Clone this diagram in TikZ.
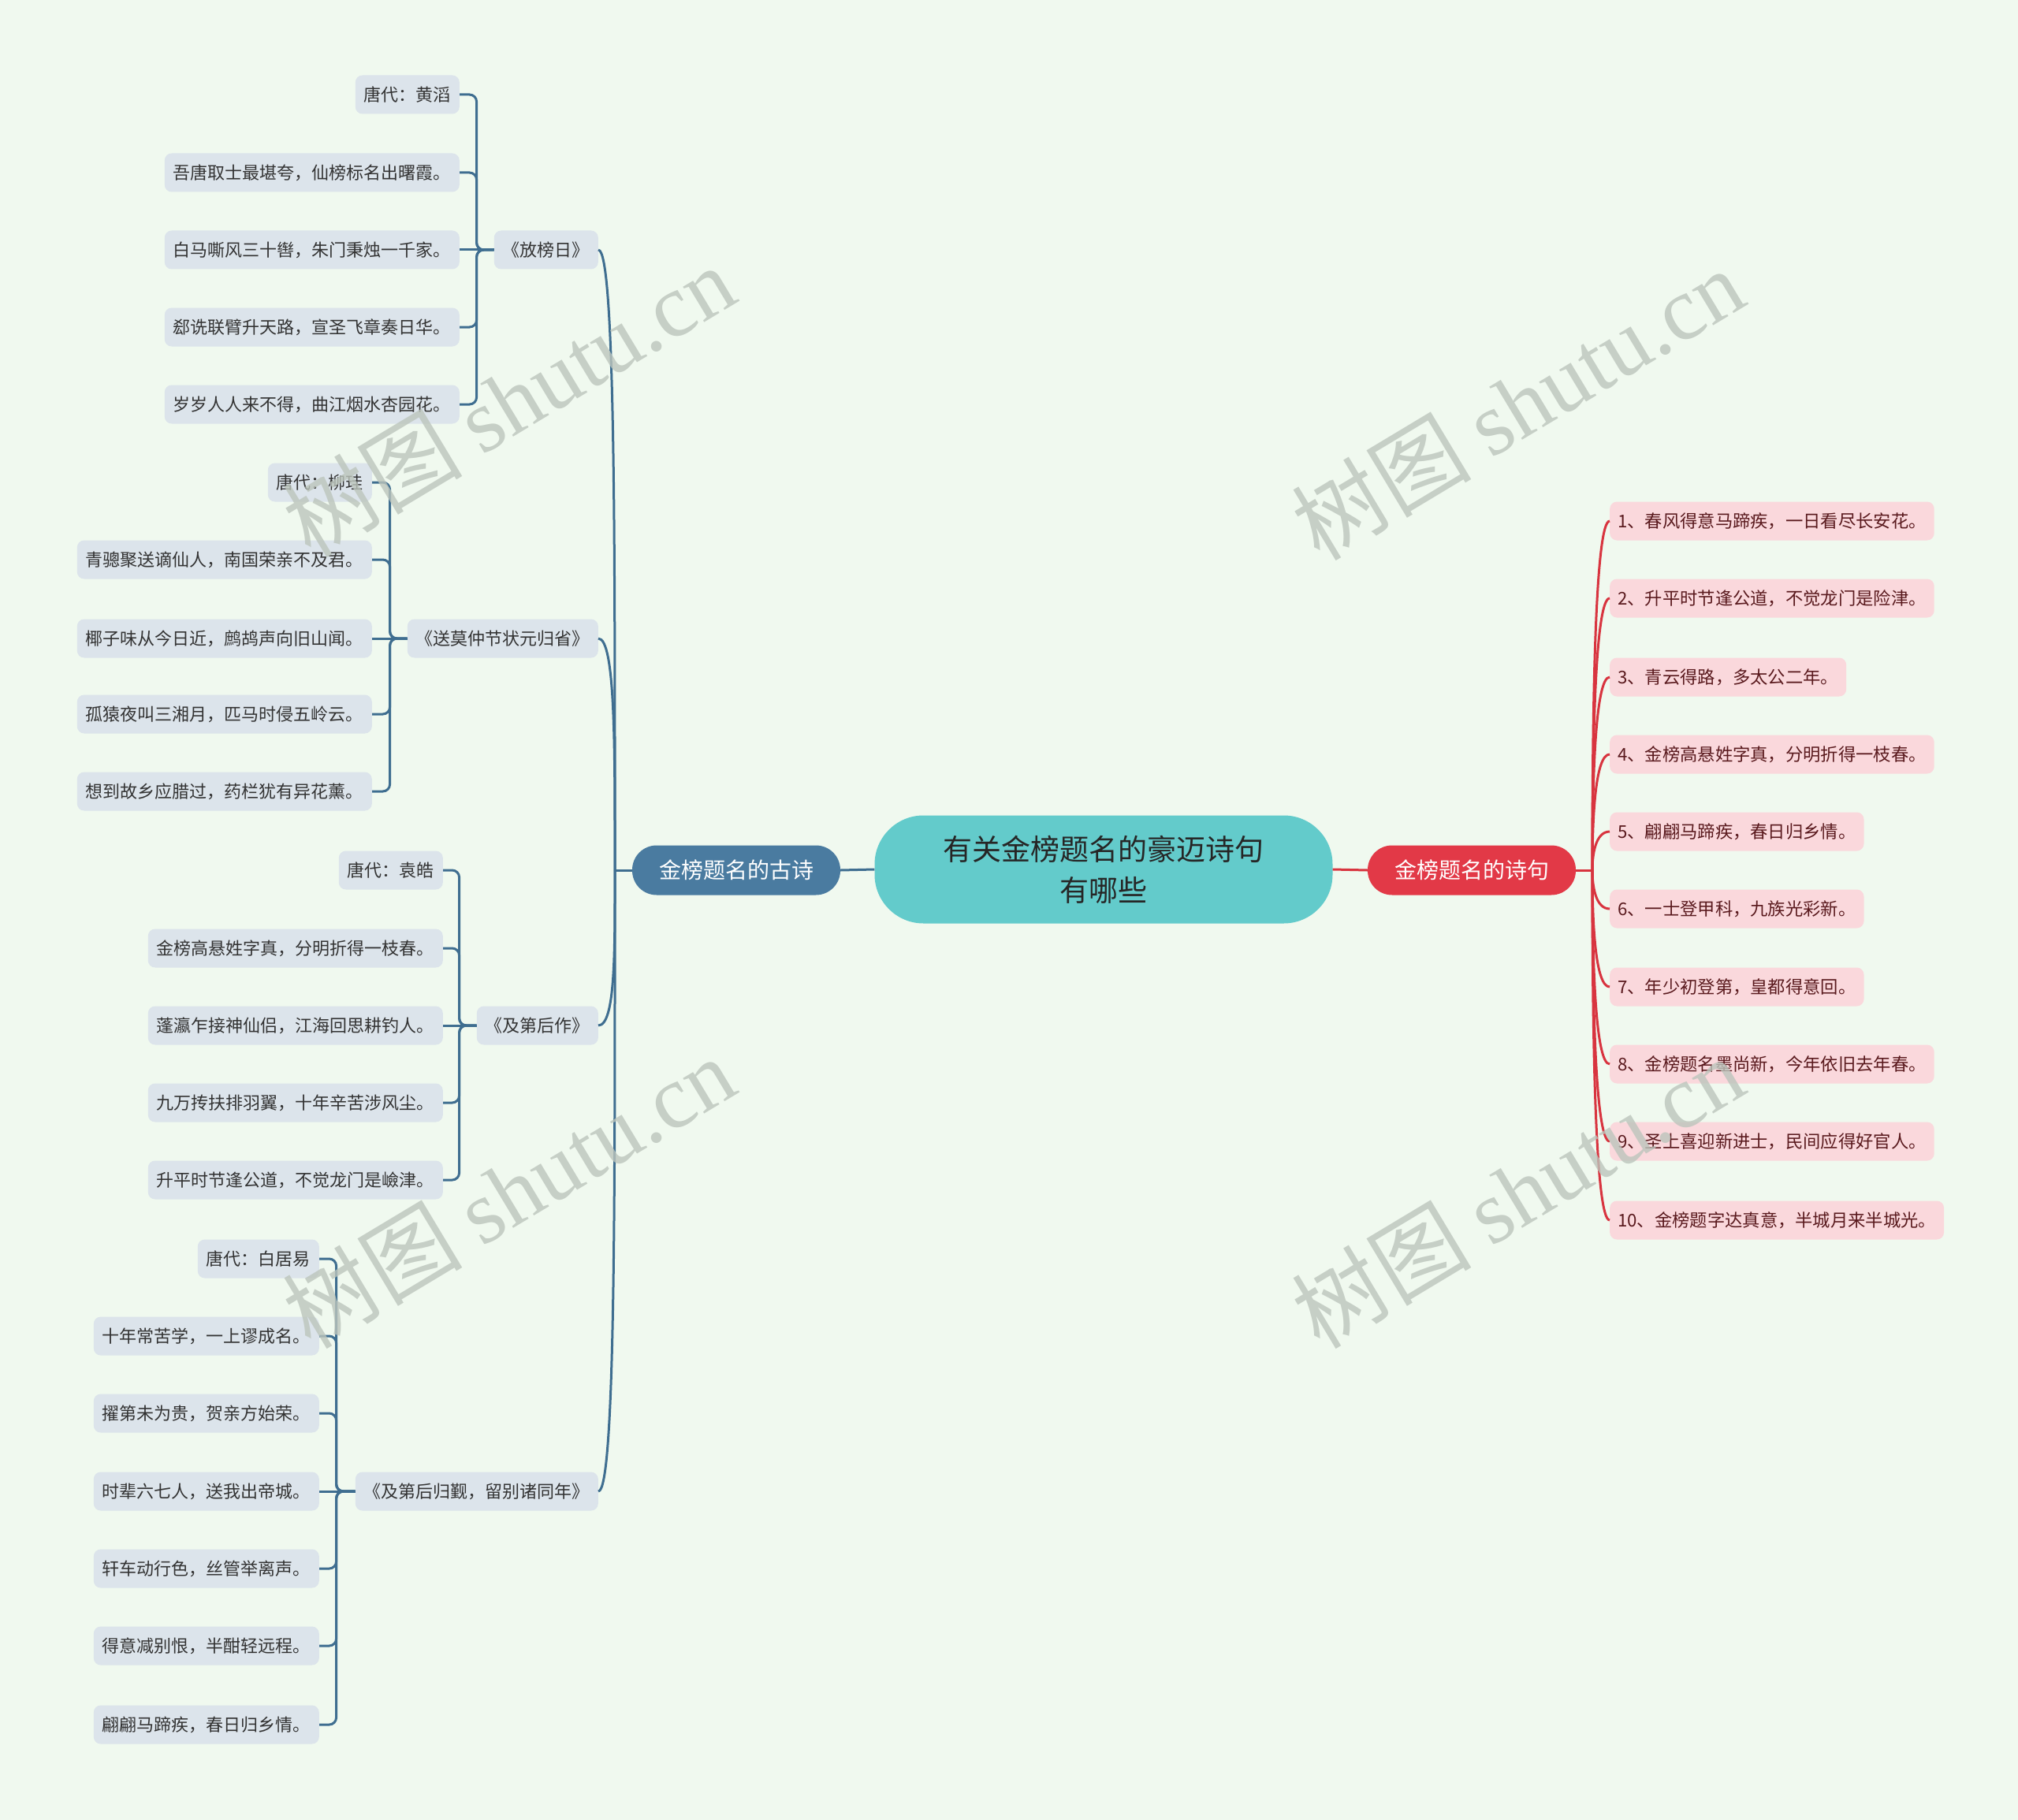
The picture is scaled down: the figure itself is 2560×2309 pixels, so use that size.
\documentclass[tikz,border=0pt]{standalone}
\usepackage{fontspec}
\setmainfont{Noto Sans CJK SC}
\newfontfamily\wmfont{Liberation Serif}
\usetikzlibrary{positioning}

\definecolor{bgcol}{HTML}{F0F9EF}
\definecolor{rootcol}{HTML}{63CBCB}
\definecolor{bluecol}{HTML}{4A7BA0}
\definecolor{bluelink}{HTML}{3F6E90}
\definecolor{blueleaf}{HTML}{DCE4EB}
\definecolor{redcol}{HTML}{E23947}
\definecolor{redlink}{HTML}{D8343F}
\definecolor{redleaf}{HTML}{FAD8DC}
\definecolor{redtext}{HTML}{5A1A1E}
\definecolor{wmcol}{HTML}{BCC5BC}

\begin{document}
\begin{tikzpicture}[
    x=1pt, y=-1pt, % one unit = one pixel of the layout, y down
    root/.style={fill=rootcol, text=black!85, rounded corners=62pt, minimum width=581pt,
        minimum height=137pt, align=center, font=\fontsize{37}{52}\selectfont}, % centre topic
    branchL/.style={fill=bluecol, text=white, rounded corners=31pt, minimum width=264pt,
        minimum height=63pt, font=\fontsize{28}{32}\selectfont}, % left main topic
    branchR/.style={branchL, fill=redcol}, % right main topic
    sub/.style={fill=blueleaf, text=black!80, rounded corners=9pt, inner xsep=11pt,
        minimum height=49pt, anchor=east, font=\fontsize{22}{26}\selectfont}, % poem titles
    leafL/.style={sub}, % lines of the poems
    leafR/.style={sub, fill=redleaf, text=redtext, anchor=west, inner xsep=10pt,
        font=\fontsize{22.3}{26}\selectfont}, % numbered lines
    linkL/.style={bluelink, line width=3pt}, % blue connectors
    linkR/.style={redlink, line width=3pt}, % red connectors
    wm/.style={text=wmcol, text opacity=0.8, font=\fontsize{114}{120}\selectfont} % watermark
]

    % Page
    \useasboundingbox[fill=bgcol] (0,0) rectangle (2560,2309);

    % Main topics
    \node[root] (root) at (1400,1103) {有关金榜题名的豪迈诗句\\有哪些};
    \node[branchL] (gushi) at (934,1104) {金榜题名的古诗};
    \node[branchR] (shiju) at (1867,1104) {金榜题名的诗句};

    \draw[linkL] (root.west) -- (gushi.east);
    \draw[linkR] (root.east) -- (shiju.west);

    % Poem titles
    \node[sub] (fb) at (759,317) {《放榜日》};
    \node[sub] (sm) at (759,810) {《送莫仲节状元归省》};
    \node[sub] (jd) at (759,1301) {《及第后作》};
    \node[sub] (gj) at (759,1892) {《及第后归觐，留别诸同年》};

    \coordinate (jL) at (780,1104);
    \draw[linkL] (gushi.west) -- (jL);
    \draw[linkL] (jL) .. controls +(0,-400) and +(22,0) .. (fb.east);
    \draw[linkL] (jL) .. controls +(0,-150) and +(22,0) .. (sm.east);
    \draw[linkL] (jL) .. controls +(0,100) and +(22,0) .. (jd.east);
    \draw[linkL] (jL) .. controls +(0,400) and +(22,0) .. (gj.east);

    % 《放榜日》
    \node[leafL] (fb1) at (583,120) {唐代：黄滔};
    \node[leafL] (fb2) at (583,219) {吾唐取士最堪夸，仙榜标名出曙霞。};
    \node[leafL] (fb3) at (583,317) {白马嘶风三十辔，朱门秉烛一千家。};
    \node[leafL] (fb4) at (583,415) {郄诜联臂升天路，宣圣飞章奏日华。};
    \node[leafL] (fb5) at (583,513) {岁岁人人来不得，曲江烟水杏园花。};

    \draw[linkL, rounded corners=9pt] (fb.west) -- ++(-22,0) |- (fb1.east);
    \draw[linkL, rounded corners=9pt] (fb.west) -- ++(-22,0) |- (fb2.east);
    \draw[linkL] (fb.west) -- (fb3.east);
    \draw[linkL, rounded corners=9pt] (fb.west) -- ++(-22,0) |- (fb4.east);
    \draw[linkL, rounded corners=9pt] (fb.west) -- ++(-22,0) |- (fb5.east);

    % 《送莫仲节状元归省》
    \node[leafL] (sm1) at (472,612) {唐代：柳珪};
    \node[leafL] (sm2) at (472,710) {青骢聚送谪仙人，南国荣亲不及君。};
    \node[leafL] (sm3) at (472,810) {椰子味从今日近，鹧鸪声向旧山闻。};
    \node[leafL] (sm4) at (472,906) {孤猿夜叫三湘月，匹马时侵五岭云。};
    \node[leafL] (sm5) at (472,1004) {想到故乡应腊过，药栏犹有异花薰。};

    \draw[linkL, rounded corners=9pt] (sm.west) -- ++(-22,0) |- (sm1.east);
    \draw[linkL, rounded corners=9pt] (sm.west) -- ++(-22,0) |- (sm2.east);
    \draw[linkL] (sm.west) -- (sm3.east);
    \draw[linkL, rounded corners=9pt] (sm.west) -- ++(-22,0) |- (sm4.east);
    \draw[linkL, rounded corners=9pt] (sm.west) -- ++(-22,0) |- (sm5.east);

    % 《及第后作》
    \node[leafL] (jd1) at (562,1104) {唐代：袁皓};
    \node[leafL] (jd2) at (562,1203) {金榜高悬姓字真，分明折得一枝春。};
    \node[leafL] (jd3) at (562,1301) {蓬瀛乍接神仙侣，江海回思耕钓人。};
    \node[leafL] (jd4) at (562,1399) {九万抟扶排羽翼，十年辛苦涉风尘。};
    \node[leafL] (jd5) at (562,1497) {升平时节逢公道，不觉龙门是嶮津。};

    \draw[linkL, rounded corners=9pt] (jd.west) -- ++(-22,0) |- (jd1.east);
    \draw[linkL, rounded corners=9pt] (jd.west) -- ++(-22,0) |- (jd2.east);
    \draw[linkL] (jd.west) -- (jd3.east);
    \draw[linkL, rounded corners=9pt] (jd.west) -- ++(-22,0) |- (jd4.east);
    \draw[linkL, rounded corners=9pt] (jd.west) -- ++(-22,0) |- (jd5.east);

    % 《及第后归觐，留别诸同年》
    \node[leafL] (gj1) at (405,1597) {唐代：白居易};
    \node[leafL] (gj2) at (405,1695) {十年常苦学，一上谬成名。};
    \node[leafL] (gj3) at (405,1793) {擢第未为贵，贺亲方始荣。};
    \node[leafL] (gj4) at (405,1892) {时辈六七人，送我出帝城。};
    \node[leafL] (gj5) at (405,1990) {轩车动行色，丝管举离声。};
    \node[leafL] (gj6) at (405,2088) {得意减别恨，半酣轻远程。};
    \node[leafL] (gj7) at (405,2188) {翩翩马蹄疾，春日归乡情。};

    \draw[linkL, rounded corners=9pt] (gj.west) -- ++(-24,0) |- (gj1.east);
    \draw[linkL, rounded corners=9pt] (gj.west) -- ++(-24,0) |- (gj2.east);
    \draw[linkL, rounded corners=9pt] (gj.west) -- ++(-24,0) |- (gj3.east);
    \draw[linkL] (gj.west) -- (gj4.east);
    \draw[linkL, rounded corners=9pt] (gj.west) -- ++(-24,0) |- (gj5.east);
    \draw[linkL, rounded corners=9pt] (gj.west) -- ++(-24,0) |- (gj6.east);
    \draw[linkL, rounded corners=9pt] (gj.west) -- ++(-24,0) |- (gj7.east);

    % Numbered lines on the right
    \node[leafR] (r1) at (2042,661) {1、春风得意马蹄疾，一日看尽长安花。};
    \node[leafR] (r2) at (2042,759) {2、升平时节逢公道，不觉龙门是险津。};
    \node[leafR] (r3) at (2042,859) {3、青云得路，多太公二年。};
    \node[leafR] (r4) at (2042,957) {4、金榜高悬姓字真，分明折得一枝春。};
    \node[leafR] (r5) at (2042,1055) {5、翩翩马蹄疾，春日归乡情。};
    \node[leafR] (r6) at (2042,1153) {6、一士登甲科，九族光彩新。};
    \node[leafR] (r7) at (2042,1252) {7、年少初登第，皇都得意回。};
    \node[leafR] (r8) at (2042,1350) {8、金榜题名墨尚新，今年依旧去年春。};
    \node[leafR] (r9) at (2042,1448) {9、圣上喜迎新进士，民间应得好官人。};
    \node[leafR] (r10) at (2042,1548) {10、金榜题字达真意，半城月来半城光。};

    \coordinate (jR) at (2020,1104);
    \draw[linkR] (shiju.east) -- (jR);
    \draw[linkR] (jR) .. controls +(0,-220) and +(-18,0) .. (r1.west);
    \draw[linkR] (jR) .. controls +(0,-170) and +(-18,0) .. (r2.west);
    \draw[linkR] (jR) .. controls +(0,-120) and +(-18,0) .. (r3.west);
    \draw[linkR] (jR) .. controls +(0,-70) and +(-18,0) .. (r4.west);
    \draw[linkR] (jR) .. controls +(0,-20) and +(-18,0) .. (r5.west);
    \draw[linkR] (jR) .. controls +(0,20) and +(-18,0) .. (r6.west);
    \draw[linkR] (jR) .. controls +(0,70) and +(-18,0) .. (r7.west);
    \draw[linkR] (jR) .. controls +(0,120) and +(-18,0) .. (r8.west);
    \draw[linkR] (jR) .. controls +(0,170) and +(-18,0) .. (r9.west);
    \draw[linkR] (jR) .. controls +(0,220) and +(-18,0) .. (r10.west);

    % Watermarks
    \node[wm, rotate=31] (wm1) at (645,508) {树图 {\wmfont shutu.cn}};
    \node[wm, rotate=31] (wm2) at (1925,512) {树图 {\wmfont shutu.cn}};
    \node[wm, rotate=31] (wm3) at (645,1512) {树图 {\wmfont shutu.cn}};
    \node[wm, rotate=31] (wm4) at (1925,1512) {树图 {\wmfont shutu.cn}};

\end{tikzpicture}
\end{document}
